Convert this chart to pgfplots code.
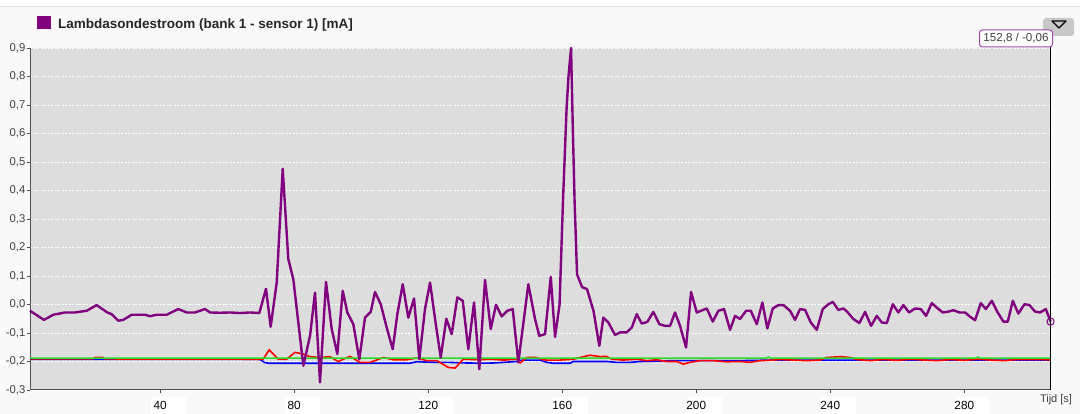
\documentclass[border=0pt]{standalone}
\usepackage{pgfplots}
\pgfplotsset{compat=1.18}
\usepackage{fontspec}
\setmainfont{Liberation Sans}

\definecolor{plotbg}{RGB}{221,221,221}
\definecolor{pagebg}{RGB}{249,249,249}
\definecolor{topline}{RGB}{226,226,226}
\definecolor{axisgray}{RGB}{80,80,80}
\definecolor{labelgray}{RGB}{64,64,64}
\definecolor{lambda}{RGB}{128,0,128}
\definecolor{tipborder}{RGB}{160,70,170}
\definecolor{btngray}{RGB}{200,200,200}
\definecolor{sred}{RGB}{255,0,0}
\definecolor{sblue}{RGB}{0,0,255}
\definecolor{sgreen}{RGB}{40,220,40}

\begin{document}
\begin{tikzpicture}
% page frame
\useasboundingbox (0,0) rectangle (1080pt,414pt);
\fill[pagebg] (0,0) rectangle (1080pt,414pt);
\fill[white] (0,407pt) rectangle (1080pt,414pt);
\draw[topline, line width=1pt] (0,407pt) -- (1080pt,407pt);

% legend entry
\fill[lambda] (37pt,385pt) rectangle (51pt,398pt);
\node[anchor=base west, inner sep=0pt, text=black!85,
  font=\fontsize{13.5}{16}\selectfont\bfseries] at (58pt,385pt)
  {Lambdasondestroom (bank 1 - sensor 1) [mA]};

\begin{axis}[
    at={(30pt,24pt)}, anchor=south west,
    scale only axis,
    width=1020.5pt, height=342pt,
    xmin=1.2, xmax=305.8,
    ymin=-0.3, ymax=0.9,
    clip=false,
    axis background/.style={fill=plotbg},
    axis x line*=bottom, axis y line*=left,
    axis line style={draw=axisgray, line width=1pt},
    tick align=outside,
    major tick length=3.5pt,
    tick style={draw=axisgray, line width=0.8pt},
    ymajorgrids,
    major grid style={draw=white, dash pattern=on 2pt off 1.5pt, line width=0.8pt},
    ytick={-0.3,-0.2,-0.1,0,0.1,0.2,0.3,0.4,0.5,0.6,0.7,0.8,0.9},
    yticklabels={{-0,3},{-0,2},{-0,1},{0,0},{0,1},{0,2},{0,3},{0,4},{0,5},{0,6},{0,7},{0,8},{0,9}},
    yticklabel style={font=\fontsize{11.3}{13}\selectfont, text=labelgray,
      anchor=east, inner sep=0pt, xshift=-1pt},
    xtick={40,80,120,160,200,240,280},
    xticklabel={\hspace*{9pt}\makebox[0pt]{\pgfmathprintnumber[assume math mode=true]{\tick}}\hspace*{26pt}},
    xticklabel style={font=\fontsize{11.8}{13}\selectfont, text=black,
      anchor=north west, inner xsep=0pt, inner ysep=0pt, fill=white,
      minimum height=18pt, xshift=-9pt, yshift=-3pt},
  ]

% blue
\addplot[sblue, line width=1.6pt] coordinates {
(1.2,-0.192) (66.9,-0.192) (69.9,-0.193) (71.3,-0.204) (72.5,-0.206)
(90,-0.206) (100,-0.206) (114.6,-0.206) (116.6,-0.201) (119.6,-0.202)
(122.6,-0.203) (126.1,-0.203) (130.5,-0.205) (136.5,-0.206) (140,-0.205)
(146.5,-0.200) (147.5,-0.196) (150,-0.195) (153.4,-0.195) (155.4,-0.203)
(157.4,-0.206) (162.4,-0.206) (163.4,-0.200) (173.3,-0.200) (176.3,-0.203)
(180.3,-0.203) (183.3,-0.200) (193.2,-0.197) (200,-0.197) (213.1,-0.197)
(223.1,-0.195) (243,-0.195) (305.8,-0.195)
};

% red
\addplot[sred, line width=1.6pt] coordinates {
(1.2,-0.191) (20,-0.191) (20.5,-0.186) (23,-0.186) (23.5,-0.191)
(66.9,-0.192) (70.8,-0.192) (72.6,-0.159) (75.3,-0.192) (77.8,-0.192)
(80.3,-0.168) (82.8,-0.174) (84.8,-0.183) (87.8,-0.186) (90.7,-0.183)
(93.2,-0.200) (96.7,-0.182) (99.7,-0.203) (102.7,-0.203) (106.7,-0.186)
(109.6,-0.194) (113.6,-0.194) (116.6,-0.188) (119.6,-0.197) (122.6,-0.197)
(126.1,-0.221) (128.1,-0.223) (130.5,-0.192) (135.5,-0.194) (138.5,-0.192)
(142.5,-0.195) (146.5,-0.192) (147.5,-0.205) (149.5,-0.186) (152.4,-0.186)
(154.4,-0.194) (155.4,-0.195) (159.4,-0.195) (163.4,-0.192) (166.4,-0.183)
(168.4,-0.178) (171.3,-0.183) (173.3,-0.182) (174.8,-0.192) (178.3,-0.195)
(182.3,-0.192) (185.3,-0.197) (188.3,-0.194) (191.3,-0.200) (194.2,-0.200)
(196.2,-0.209) (198.2,-0.203) (201.2,-0.197) (205.2,-0.197) (209.2,-0.201)
(213.1,-0.200) (216.1,-0.203) (219.1,-0.197) (223.1,-0.195) (225.1,-0.193)
(229.0,-0.195) (233.0,-0.197) (237.0,-0.195) (239.0,-0.186) (243.0,-0.183)
(246,-0.186) (248,-0.193) (252,-0.197) (256,-0.193) (260,-0.196)
(264,-0.192) (268,-0.195) (272,-0.197) (276,-0.193) (280,-0.196)
(284,-0.192) (288,-0.195) (292,-0.197) (296,-0.193) (300,-0.193)
(305.8,-0.194)
};

% green
\addplot[sgreen, line width=1.5pt] coordinates {
(1.2,-0.188) (221,-0.188) (221.6,-0.184) (222.2,-0.188)
(283.5,-0.188) (284.1,-0.184) (284.7,-0.188) (305.8,-0.188)
};

% lambdasondestroom
\addplot[lambda, line width=2.4pt, line join=round] coordinates {
(1.19,-0.022) (5.37,-0.054) (8.15,-0.036) (11.64,-0.028) (14.63,-0.028)
(18.12,-0.022) (21.10,-0.002) (24.27,-0.028) (25.58,-0.034) (27.55,-0.057)
(29.04,-0.054) (31.55,-0.036) (35.52,-0.036) (37.01,-0.041) (39.01,-0.036)
(42.0,-0.036) (45.46,-0.016) (47.97,-0.028) (50.45,-0.028) (53.43,-0.016)
(54.93,-0.028) (57.91,-0.029) (60.9,-0.028) (63.88,-0.030) (66.87,-0.028)
(69.64,-0.030) (71.64,0.055) (73.04,-0.078) (74.84,0.077) (76.63,0.476)
(78.3,0.159) (79.79,0.089) (82.78,-0.215) (84.78,-0.110) (86.27,0.042)
(87.76,-0.273) (89.55,0.079) (91.25,-0.086) (92.93,-0.174) (94.54,0.048)
(95.91,-0.028) (97.70,-0.069) (99.49,-0.192) (101.19,-0.046) (102.9,-0.026)
(104.18,0.044) (105.88,0.001) (107.67,-0.081) (109.46,-0.157) (110.84,-0.034)
(112.45,0.071) (114.12,-0.046) (115.82,0.021) (117.4,-0.192) (119.1,-0.016)
(120.6,0.077) (122.39,-0.075) (123.79,-0.186) (125.46,-0.050) (127.07,-0.104)
(128.75,0.025) (130.36,0.013) (132.03,-0.157) (133.73,0.007) (135.31,-0.227)
(137.01,0.086) (138.72,-0.086) (140.3,-0.001) (142.0,-0.042) (143.67,-0.022)
(145.28,-0.016) (146.96,-0.203) (149.94,0.071) (151.94,-0.051) (153.22,-0.110)
(154.93,-0.104) (156.63,0.097) (157.91,-0.114) (159.25,-0.002) (160.3,0.369)
(161.34,0.684) (161.94,0.803) (162.69,0.900) (163.19,0.631) (163.73,0.369)
(164.48,0.106) (165.97,0.061) (167.46,0.054) (169.4,-0.023) (171.13,-0.145)
(172.33,-0.046) (173.82,-0.063) (175.82,-0.107) (177.31,-0.098) (179.25,-0.098)
(180.81,-0.081) (182.3,-0.034) (183.79,-0.067) (185.46,-0.061) (187.25,-0.026)
(189.04,-0.069) (190.75,-0.075) (192.24,-0.075) (193.73,-0.028) (195.22,-0.075)
(197.01,-0.151) (198.51,0.044) (200.21,-0.028) (203.19,-0.014) (204.99,-0.060)
(206.66,-0.022) (208.36,-0.016) (210.15,-0.089) (211.64,-0.040) (213.13,-0.051)
(214.93,-0.022) (216.33,-0.022) (218.12,-0.069) (219.79,0.007) (221.28,-0.084)
(222.9,-0.014) (224.57,-0.002) (226.06,-0.002) (228.06,-0.022) (229.55,-0.054)
(231.04,-0.016) (232.54,-0.019) (234.24,-0.063) (236.03,-0.089) (237.82,-0.016)
(239.49,0.001) (240.81,0.009) (242.48,-0.019) (243.97,-0.014) (245.16,-0.026)
(246.96,-0.051) (248.75,-0.065) (250.45,-0.026) (252.24,-0.075) (253.94,-0.040)
(255.43,-0.063) (256.93,-0.065) (258.72,0.001) (260.39,-0.028) (261.88,-0.002)
(263.58,-0.028) (265.37,-0.014) (267.07,-0.016) (268.66,-0.040) (270.36,0.005)
(271.85,-0.011) (273.64,-0.028) (275.31,-0.025) (276.81,-0.020) (278.6,-0.028)
(280.3,-0.028) (281.79,-0.043) (283.28,-0.055) (284.99,0.005) (286.48,-0.016)
(288.27,0.013) (289.94,-0.026) (291.73,-0.060) (293.04,-0.060) (294.54,0.013)
(296.21,-0.032) (298.0,0.001) (299.49,-0.002) (301.19,-0.025) (302.69,-0.028)
(304.39,-0.016) (305.82,-0.060)
};

% cursor at the last sample
\addplot[lambda, only marks, mark=o, mark size=3.6pt,
  mark options={line width=1pt, fill=none}] coordinates {(305.82,-0.06)};

\draw[black, line width=0.8pt] (rel axis cs:1,0) -- (rel axis cs:1,1.003);
\end{axis}

% menu button
\fill[btngray, rounded corners=3pt] (1043pt,378pt) rectangle (1074pt,396pt);
\draw[black, line width=1.2pt, line join=round]
  (1052pt,393pt) -- (1066pt,393pt) -- (1059pt,386pt) -- cycle;

% cursor read-out, drawn over the button
\node[draw=tipborder, line width=1pt, rounded corners=3pt, fill=white,
  minimum width=73pt, minimum height=17pt, inner sep=0pt, text=labelgray,
  font=\fontsize{11.6}{13}\selectfont] at (1016pt,375.5pt) {152,8 / -0,06};

% x axis title
\node[text=labelgray, font=\fontsize{11}{13}\selectfont] at (1056pt,14pt) {Tijd [s]};
\end{tikzpicture}
\end{document}
